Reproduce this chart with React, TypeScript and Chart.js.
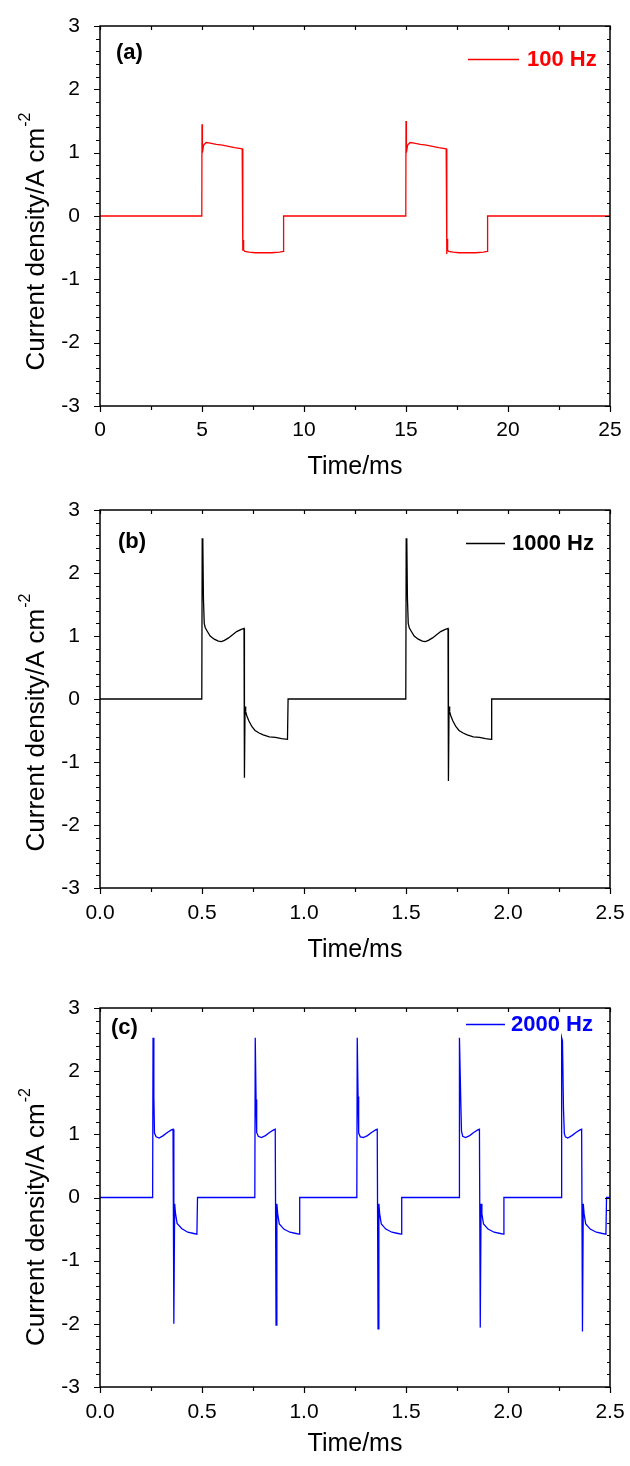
import React, { useEffect, useRef } from "react";
import { Chart, registerables } from "chart.js";

Chart.register(...registerables);

const FONT = "'Liberation Sans', Arial, Helvetica, sans-serif";

// ---------- Panel (a): 100 Hz ----------
const timeA = [
  0, 4.99, 5.0, 5.02, 5.08, 5.2, 5.4, 5.7, 6.0, 6.3, 6.6, 6.97, 7.0, 7.02, 7.04, 7.1, 7.3, 7.6, 8.0, 8.4, 8.8, 8.98, 9.0,
  14.99, 15.0, 15.02, 15.08, 15.2, 15.4, 15.7, 16.0, 16.3, 16.6, 16.97, 17.0, 17.02, 17.04, 17.1, 17.3, 17.6, 18.0, 18.4,
  18.8, 18.98, 19.0, 25,
];
const currentA = [
  0, 0, 1.45, 1.0, 1.12, 1.16, 1.15, 1.13, 1.12, 1.1, 1.08, 1.06, -0.55, -0.38, -0.54, -0.56, -0.57, -0.58, -0.58, -0.58,
  -0.57, -0.56, 0, 0, 1.5, 1.0, 1.12, 1.16, 1.15, 1.13, 1.12, 1.1, 1.08, 1.06, -0.6, -0.36, -0.54, -0.56, -0.57, -0.58,
  -0.58, -0.58, -0.57, -0.56, 0, 0,
];

// ---------- Panel (b): 1000 Hz ----------
const timeB = [
  0, 0.499, 0.501, 0.504, 0.507, 0.511, 0.516, 0.525, 0.54, 0.56, 0.58, 0.595, 0.61, 0.63, 0.65, 0.67, 0.69, 0.706,
  0.708, 0.711, 0.714, 0.72, 0.73, 0.745, 0.76, 0.78, 0.8, 0.83, 0.86, 0.89, 0.919, 0.922,
  1.499, 1.501, 1.504, 1.507, 1.511, 1.516, 1.525, 1.54, 1.56, 1.58, 1.595, 1.61, 1.63, 1.65, 1.67, 1.69, 1.706,
  1.708, 1.711, 1.714, 1.72, 1.73, 1.745, 1.76, 1.78, 1.8, 1.83, 1.86, 1.89, 1.917, 1.92, 2.5,
];
const currentB = [
  0, 0, 2.55, 2.5, 1.6, 1.2, 1.13, 1.08, 1.0, 0.95, 0.92, 0.91, 0.93, 0.97, 1.02, 1.07, 1.1, 1.12,
  -1.25, -0.12, -0.2, -0.27, -0.35, -0.44, -0.5, -0.54, -0.57, -0.6, -0.61, -0.63, -0.64, 0,
  0, 2.55, 2.5, 1.6, 1.2, 1.13, 1.08, 1.0, 0.95, 0.92, 0.91, 0.93, 0.97, 1.02, 1.07, 1.1, 1.12,
  -1.3, -0.12, -0.2, -0.27, -0.35, -0.44, -0.5, -0.54, -0.57, -0.6, -0.61, -0.63, -0.64, 0, 0,
];

// ---------- Panel (c): 2000 Hz ----------
const timeC = [
  0,
  0.258, 0.26, 0.264, 0.267, 0.275, 0.29, 0.31, 0.33, 0.35, 0.358, 0.362, 0.366, 0.37, 0.378, 0.4, 0.43, 0.46, 0.475, 0.478,
  0.759, 0.761, 0.765, 0.768, 0.776, 0.791, 0.811, 0.831, 0.851, 0.859, 0.863, 0.867, 0.871, 0.879, 0.901, 0.931, 0.961, 0.976, 0.979,
  1.259, 1.261, 1.265, 1.268, 1.276, 1.291, 1.311, 1.331, 1.351, 1.359, 1.363, 1.367, 1.371, 1.379, 1.401, 1.431, 1.461, 1.476, 1.479,
  1.76, 1.762, 1.768, 1.772, 1.778, 1.792, 1.812, 1.832, 1.852, 1.86, 1.864, 1.868, 1.872, 1.88, 1.902, 1.932, 1.962, 1.977, 1.98,
  2.261, 2.263, 2.267, 2.272, 2.276, 2.281, 2.293, 2.313, 2.333, 2.353, 2.361, 2.365, 2.369, 2.373, 2.381, 2.403, 2.433, 2.463, 2.48, 2.483,
  2.5,
];
const currentC = [
  0,
  0, 2.53, 1.6, 1.02, 0.96, 0.94, 0.98, 1.03, 1.07, 1.08, -2.0, -0.1, -0.25, -0.41, -0.49, -0.55, -0.57, -0.58, 0,
  0, 2.53, 1.55, 1.03, 0.97, 0.95, 0.98, 1.03, 1.07, 1.08, -2.02, -0.1, -0.26, -0.42, -0.5, -0.55, -0.57, -0.58, 0,
  0, 2.53, 1.6, 1.02, 0.96, 0.95, 0.98, 1.03, 1.07, 1.08, -2.08, -0.1, -0.26, -0.42, -0.5, -0.55, -0.57, -0.58, 0,
  0, 2.53, 1.6, 1.05, 0.97, 0.95, 0.98, 1.03, 1.07, 1.08, -2.06, -0.1, -0.26, -0.42, -0.5, -0.55, -0.57, -0.58, 0,
  0, 2.53, 2.48, 1.4, 1.02, 0.96, 0.94, 0.98, 1.03, 1.07, 1.08, -2.12, -0.1, -0.26, -0.42, -0.5, -0.55, -0.57, -0.58, 0,
  0,
];

// ---------- Axes / labels ----------
const yTickValues = [-3, -2, -1, 0, 1, 2, 3];
const yTickLabels = ["-3", "-2", "-1", "0", "1", "2", "3"];
const xTickValuesA = [0, 5, 10, 15, 20, 25];
const xTickLabelsA = ["0", "5", "10", "15", "20", "25"];
const xTickValuesBC = [0, 0.5, 1, 1.5, 2, 2.5];
const xTickLabelsBC = ["0.0", "0.5", "1.0", "1.5", "2.0", "2.5"];
const xAxisTitle = "Time/ms";
const yAxisTitleMain = "Current density/A cm";
const yAxisTitleSup = "-2";
const panelLetters = ["(a)", "(b)", "(c)"];
const legendLabels = ["100 Hz", "1000 Hz", "2000 Hz"];
const lineColors = ["#ff0000", "#000000", "#0000ff"];

type PanelCfg = {
  top: number;
  height: number;
  padTop: number;
  axisHeight: number;
  xLabelPad: number;
  titlePadBottom: number;
  times: number[];
  values: number[];
  color: string;
  xMax: number;
  xMinorStep: number;
  xTicks: number[];
  xLabels: string[];
  letter: string;
  letterX: number;
  letterY: number;
  legend: string;
  legendX0: number;
  legendX1: number;
  legendTextX: number;
  legendY: number;
  yTitleOffset: number;
};

const panels: PanelCfg[] = [
  {
    top: 0, height: 484, padTop: 26, axisHeight: 78, xLabelPad: 4, titlePadBottom: 2,
    times: timeA, values: currentA, color: lineColors[0], xMax: 25, xMinorStep: 2.5,
    xTicks: xTickValuesA, xLabels: xTickLabelsA,
    letter: panelLetters[0], letterX: 116, letterY: 53,
    legend: legendLabels[0], legendX0: 468, legendX1: 519, legendTextX: 527, legendY: 59, yTitleOffset: 26,
  },
  {
    top: 484, height: 498, padTop: 26, axisHeight: 94, xLabelPad: 5, titlePadBottom: 17,
    times: timeB, values: currentB, color: lineColors[1], xMax: 2.5, xMinorStep: 0.25,
    xTicks: xTickValuesBC, xLabels: xTickLabelsBC,
    letter: panelLetters[1], letterX: 118, letterY: 58,
    legend: legendLabels[1], legendX0: 466, legendX1: 505, legendTextX: 512, legendY: 59, yTitleOffset: 24,
  },
  {
    top: 982, height: 484, padTop: 26, axisHeight: 79, xLabelPad: 5, titlePadBottom: 7,
    times: timeC, values: currentC, color: lineColors[2], xMax: 2.5, xMinorStep: 0.25,
    xTicks: xTickValuesBC, xLabels: xTickLabelsBC,
    letter: panelLetters[2], letterX: 111, letterY: 46,
    legend: legendLabels[2], legendX0: 466, legendX1: 505, legendTextX: 511, legendY: 42, yTitleOffset: 20,
  },
];

function Panel({ cfg }: { cfg: PanelCfg }) {
  const ref = useRef<HTMLCanvasElement>(null);

  useEffect(() => {
    const canvas = ref.current;
    if (!canvas) return;
    const points = cfg.times.map((t, i) => ({ x: t, y: cfg.values[i] }));

    const deco = {
      id: "deco",
      afterDatasetsDraw(chart: any) {
        const { ctx, chartArea } = chart;
        const { left, right, top, bottom } = chartArea;
        const xs = chart.scales.x;
        const ys = chart.scales.y;
        ctx.save();
        // frame
        ctx.strokeStyle = "#000";
        ctx.lineWidth = 1.5;
        ctx.strokeRect(left, top, right - left, bottom - top);
        // y ticks (major each 1, minor each 0.2)
        ctx.lineWidth = 1.2;
        ctx.beginPath();
        for (let k = 0; k <= 30; k++) {
          const v = -3 + k * 0.2;
          const py = Math.round(ys.getPixelForValue(v)) + 0.5;
          const major = k % 5 === 0;
          ctx.moveTo(left - (major ? 6 : 4), py);
          ctx.lineTo(left, py);
          ctx.moveTo(right, py);
          ctx.lineTo(right - (major ? 5 : 3), py);
        }
        // x ticks
        const nX = Math.round(cfg.xMax / cfg.xMinorStep);
        for (let k = 0; k <= nX; k++) {
          const v = k * cfg.xMinorStep;
          const px = Math.round(xs.getPixelForValue(v)) + 0.5;
          const major = k % 2 === 0;
          ctx.moveTo(px, bottom);
          ctx.lineTo(px, bottom + (major ? 6 : 4));
          ctx.moveTo(px, top);
          ctx.lineTo(px, top + 4);
        }
        ctx.stroke();

        // panel letter
        ctx.fillStyle = "#000";
        ctx.font = `bold 22px ${FONT}`;
        ctx.textAlign = "left";
        ctx.textBaseline = "middle";
        ctx.fillText(cfg.letter, cfg.letterX, cfg.letterY);

        // legend
        ctx.strokeStyle = cfg.color;
        ctx.lineWidth = 1.3;
        ctx.beginPath();
        ctx.moveTo(cfg.legendX0, cfg.legendY + 0.5);
        ctx.lineTo(cfg.legendX1, cfg.legendY + 0.5);
        ctx.stroke();
        ctx.fillStyle = cfg.color;
        ctx.font = `bold 22px ${FONT}`;
        ctx.fillText(cfg.legend, cfg.legendTextX, cfg.legendY + 1);

        // y axis title with superscript
        const cy = (top + bottom) / 2 + cfg.yTitleOffset;
        ctx.translate(37, cy);
        ctx.rotate(-Math.PI / 2);
        ctx.fillStyle = "#000";
        ctx.font = `26px ${FONT}`;
        const wMain = ctx.measureText(yAxisTitleMain).width;
        ctx.font = `16px ${FONT}`;
        const wSup = ctx.measureText(yAxisTitleSup).width;
        const x0 = -(wMain + wSup) / 2;
        ctx.font = `26px ${FONT}`;
        ctx.textBaseline = "middle";
        ctx.fillText(yAxisTitleMain, x0, 0);
        ctx.font = `16px ${FONT}`;
        ctx.fillText(yAxisTitleSup, x0 + wMain + 1, -11);
        ctx.restore();
      },
    };

    const chart = new Chart(canvas, {
      type: "line",
      data: {
        datasets: [
          {
            label: cfg.legend,
            data: points,
            borderColor: cfg.color,
            backgroundColor: cfg.color,
            borderWidth: 1.3,
            pointRadius: 0,
            fill: false,
            tension: 0,
          },
        ],
      },
      options: {
        animation: false,
        responsive: false,
        devicePixelRatio: 1,
        layout: { padding: { top: cfg.padTop, right: 20, left: 0, bottom: 0 } },
        plugins: { legend: { display: false }, tooltip: { enabled: false } },
        scales: {
          x: {
            type: "linear",
            min: 0,
            max: cfg.xMax,
            grid: { display: false },
            border: { display: false },
            afterBuildTicks: (s: any) => {
              s.ticks = cfg.xTicks.map((v) => ({ value: v }));
            },
            afterFit: (s: any) => {
              s.height = cfg.axisHeight;
            },
            ticks: {
              autoSkip: false,
              maxRotation: 0,
              minRotation: 0,
              padding: cfg.xLabelPad,
              color: "#000",
              font: { family: FONT, size: 21 },
              callback: (_v: any, i: number) => cfg.xLabels[i],
            },
            title: {
              display: true,
              text: xAxisTitle,
              color: "#000",
              font: { family: FONT, size: 25 },
              padding: { top: 0, bottom: cfg.titlePadBottom },
            },
          },
          y: {
            type: "linear",
            min: -3,
            max: 3,
            grid: { display: false },
            border: { display: false },
            afterBuildTicks: (s: any) => {
              s.ticks = yTickValues.map((v) => ({ value: v }));
            },
            afterFit: (s: any) => {
              s.width = 100;
            },
            ticks: {
              autoSkip: false,
              padding: 12,
              color: "#000",
              font: { family: FONT, size: 21 },
              callback: (_v: any, i: number) => yTickLabels[i],
            },
          },
        },
      },
      plugins: [deco],
    });
    return () => chart.destroy();
  }, [cfg]);

  return (
    <canvas
      ref={ref}
      width={630}
      height={cfg.height}
      style={{ position: "absolute", left: 0, top: cfg.top, width: 630, height: cfg.height }}
    />
  );
}

export default function App() {
  return (
    <div style={{ position: "absolute", left: 0, top: 0, width: 630, height: 1466, background: "#fff" }}>
      {panels.map((p, i) => (
        <Panel key={i} cfg={p} />
      ))}
    </div>
  );
}
